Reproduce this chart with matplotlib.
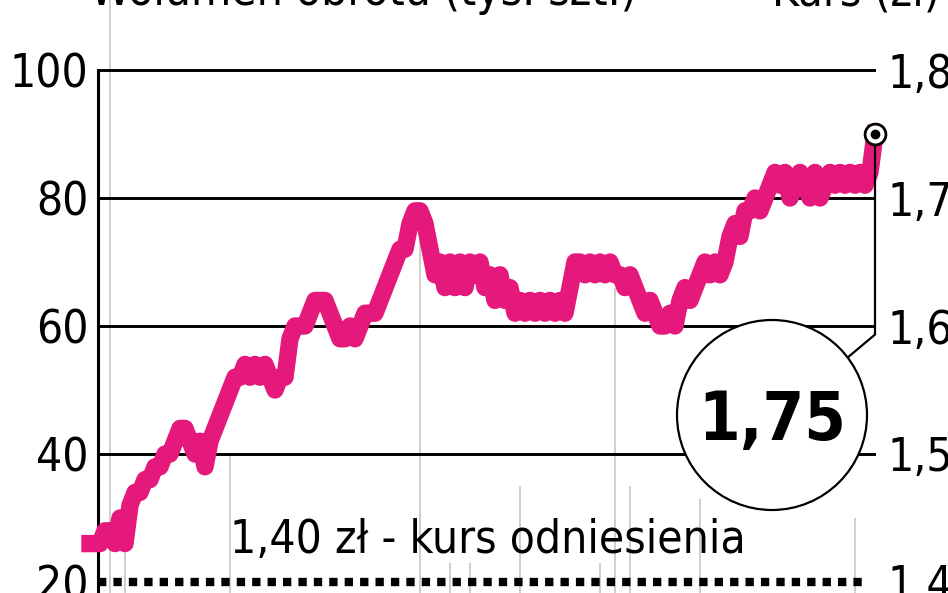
import numpy as np
import matplotlib
matplotlib.use('Agg')
import matplotlib.pyplot as plt
import matplotlib.font_manager as fm
from matplotlib.patches import Circle

# wąski krój, jeśli jest zainstalowany; inaczej Liberation Sans
waskie = [f for f in fm.fontManager.ttflist
          if 'Narrow' in f.name or 'Condensed' in f.name or f.stretch in ('condensed', 'semi-condensed')]
if waskie:
    rodzina = waskie[0].name
    rozciag = waskie[0].stretch
    skala = 1.0
else:
    rodzina = 'Liberation Sans'
    rozciag = 'normal'
    skala = 0.9
plt.rcParams['font.family'] = [rodzina, 'DejaVu Sans']
plt.rcParams['font.stretch'] = rozciag

# kurs akcji (zł), kolejne sesje
kurs = [1.43, 1.43, 1.43, 1.44, 1.44, 1.43, 1.45, 1.43, 1.46, 1.47,
        1.47, 1.48, 1.48, 1.49, 1.49, 1.50, 1.50, 1.51, 1.52, 1.52,
        1.51, 1.50, 1.51, 1.49, 1.51, 1.52, 1.53, 1.54, 1.55, 1.56,
        1.56, 1.57, 1.56, 1.57, 1.56, 1.57, 1.56, 1.55, 1.56, 1.56,
        1.59, 1.60, 1.60, 1.60, 1.61, 1.62, 1.62, 1.62, 1.61, 1.60,
        1.59, 1.59, 1.60, 1.59, 1.60, 1.61, 1.61, 1.61, 1.62, 1.63,
        1.64, 1.65, 1.66, 1.66, 1.68, 1.69, 1.69,
        1.68, 1.66, 1.64, 1.65, 1.63, 1.65, 1.63, 1.65, 1.63, 1.65,
        1.64, 1.65, 1.63, 1.64, 1.62, 1.64, 1.62,
        1.63, 1.61, 1.62, 1.61, 1.62, 1.61, 1.62, 1.61, 1.62, 1.61, 1.62, 1.61,
        1.63, 1.65, 1.65, 1.64, 1.65, 1.64, 1.65, 1.64, 1.65, 1.64,
        1.64, 1.63, 1.64, 1.63,
        1.62, 1.61, 1.62, 1.61, 1.60,
        1.60, 1.61, 1.60,
        1.62, 1.63, 1.62, 1.63,
        1.64, 1.65, 1.64, 1.65, 1.64, 1.65,
        1.67, 1.68, 1.67, 1.69,
        1.69, 1.70, 1.69, 1.70,
        1.71, 1.72, 1.71, 1.72, 1.70, 1.71, 1.72, 1.71, 1.70, 1.72, 1.70,
        1.71, 1.72, 1.71, 1.72, 1.71, 1.72, 1.71, 1.72, 1.71, 1.72, 1.75]
sesje = np.arange(len(kurs))

# wolumen (tys. szt.)
wol_sesje = [4, 7, 28, 66, 72, 76, 86, 102, 105, 108, 122, 153]
wolumen = [120, 25, 40, 74, 23, 23, 35, 23, 66, 35, 33, 30]

kurs_odniesienia = 1.40
wol_ticks = [20, 40, 60, 80, 100]
kurs_ticks = [1.4, 1.5, 1.6, 1.7, 1.8]

fs = 33 * skala

fig = plt.figure(figsize=(9.48, 5.93), dpi=100)
ax = fig.add_axes([98 / 948, 0, 778 / 948, 1])
ax2 = ax.twinx()

ax.set_xlim(1.6, 157.2)
ax.set_ylim(18.28, 110.94)
ax2.set_ylim(1.3914, 1.8547)

# słupki wolumenu
ax.vlines(wol_sesje, 0, wolumen, color='#cbcbc1', lw=1.3, zorder=0)
for v in wol_ticks[1:]:
    ax.axhline(v, color='black', lw=2.1, zorder=1)

for s in ['top', 'right', 'bottom']:
    ax.spines[s].set_visible(False)
    ax2.spines[s].set_visible(False)
ax2.spines['left'].set_visible(False)
ax.spines['left'].set_linewidth(2.2)
ax.spines['left'].set_bounds(18.28, 100)

ax.set_xticks([])
ax.set_yticks(wol_ticks)
ax.set_yticklabels([str(t) for t in wol_ticks])
ax.tick_params(axis='y', length=0, pad=7, labelsize=fs)
ax2.set_yticks(kurs_ticks)
ax2.set_yticklabels([('%.1f' % t).replace('.', ',') for t in kurs_ticks])
ax2.tick_params(axis='y', length=0, pad=8, labelsize=fs)

# kurs odniesienia
ax2.axhline(kurs_odniesienia, xmin=0, xmax=0.99, color='black', lw=6,
            dashes=(1, 0.85), dash_capstyle='butt', zorder=2)
ax2.text(28, kurs_odniesienia + 0.0227, '1,40 zł - kurs odniesienia',
         fontsize=fs, ha='left', va='baseline')

ax2.plot(sesje, kurs, color='#e5187c', lw=12.5, zorder=3, clip_on=False)

ax2.plot(sesje[-1], kurs[-1], 'o', ms=15, mfc='white', mec='black', mew=2, zorder=6, clip_on=False)
ax2.plot(sesje[-1], kurs[-1], 'o', ms=6, color='black', zorder=7, clip_on=False)

# kółko z ostatnim kursem
kolo = Circle((7.72, 1.78), 0.95, transform=fig.dpi_scale_trans,
              fc='white', ec='black', lw=1.6, zorder=4)
ax2.add_patch(kolo)
ax2.annotate(('%.2f' % kurs[-1]).replace('.', ','), xy=(sesje[-1], kurs[-1]),
             xytext=(772, 153), textcoords='figure pixels',
             fontsize=48 * skala, fontweight='bold', ha='center', va='baseline',
             arrowprops=dict(arrowstyle='-', color='black', lw=1.6, patchA=kolo,
                             connectionstyle='angle,angleA=40,angleB=90,rad=0',
                             shrinkA=0, shrinkB=9),
             zorder=5)

fig.text(0.095, 1 - 5 / 593, 'Wolumen obrotu (tys. szt.)', fontsize=fs, ha='left', va='baseline')
fig.text(0.992, 1 - 5 / 593, 'Kurs (zł)', fontsize=fs, ha='right', va='baseline')

fig.savefig('out.png', dpi=100)
